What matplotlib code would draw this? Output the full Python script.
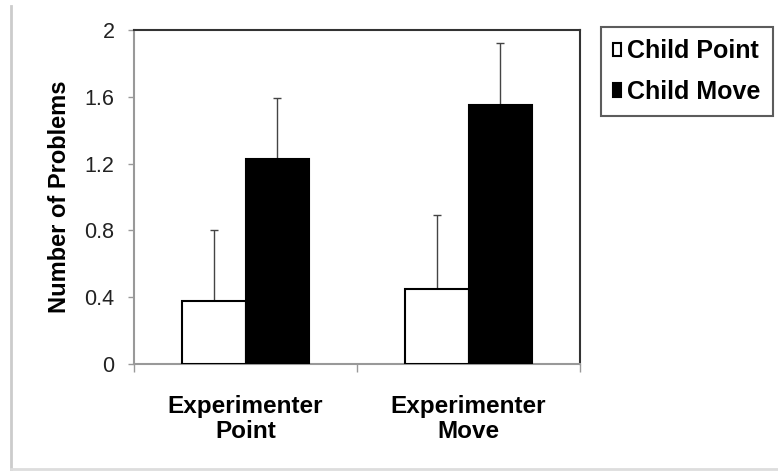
import numpy as np
import matplotlib
matplotlib.use('Agg')
import matplotlib.pyplot as plt
from matplotlib.lines import Line2D
from matplotlib import font_manager

categories = ['Experimenter\nPoint', 'Experimenter\nMove']
series = ['Child Point', 'Child Move']
child_point = [0.38, 0.45]
child_move = [1.23, 1.55]
child_point_err = [0.42, 0.44]
child_move_err = [0.36, 0.37]
yticks = [0, 0.4, 0.8, 1.2, 1.6, 2]
ytick_labels = ['0', '0.4', '0.8', '1.2', '1.6', '2']

names = {f.name for f in font_manager.fontManager.ttflist}
narrow = 'Liberation Sans Narrow' if 'Liberation Sans Narrow' in names else 'Liberation Sans'
plt.rcParams['font.family'] = ['Liberation Sans', 'DejaVu Sans']

fig = plt.figure(figsize=(7.78, 4.71), dpi=100)
ax = fig.add_axes([134/778, 107/471, 446/778, 334/471])

x = np.arange(len(categories))
w = 0.285
b1 = ax.bar(x - w/2, child_point, w, color='white', edgecolor='black', linewidth=1.5, label=series[0], zorder=3)
b2 = ax.bar(x + w/2, child_move, w, color='black', edgecolor='black', linewidth=1.5, label=series[1], zorder=3)

# one-sided error bars
ax.errorbar(x - w/2, child_point, yerr=[np.zeros(2), child_point_err], fmt='none',
            ecolor='#444444', elinewidth=1, capsize=3, capthick=1, zorder=2)
ax.errorbar(x + w/2, child_move, yerr=[np.zeros(2), child_move_err], fmt='none',
            ecolor='#444444', elinewidth=1, capsize=3, capthick=1, zorder=2)

ax.set_xlim(-0.5, 1.5)
ax.set_ylim(0, 2)
ax.set_yticks(yticks)
ax.set_yticklabels(ytick_labels, fontfamily=narrow, fontsize=15.5, color='#222222')
ax.set_xticks(x)
ax.set_xticklabels(categories, fontsize=17.5, fontweight='bold', linespacing=1.15)
ax.set_xticks([-0.5, 0.5, 1.5], minor=True)
ax.tick_params(axis='x', which='major', length=0, pad=22)
ax.tick_params(axis='x', which='minor', length=6, color='#999999', width=1)
ax.tick_params(axis='y', length=4, color='#999999', width=1, pad=10)
ax.set_ylabel('Number of Problems', fontsize=17, fontweight='bold', labelpad=10)

for s in ['left', 'bottom']:
    ax.spines[s].set_color('#999999')
    ax.spines[s].set_linewidth(1.5)
for s in ['top', 'right']:
    ax.spines[s].set_color('#333333')
    ax.spines[s].set_linewidth(1.5)

leg = fig.legend(handles=[b1, b2], labels=series, loc='upper right',
                 bbox_to_anchor=(773/778, 1 - 27/471), frameon=True, fancybox=False,
                 prop={'weight': 'bold', 'size': 18}, handlelength=0.3, handleheight=0.45,
                 handletextpad=0.25, borderpad=0.5, labelspacing=0.65, borderaxespad=0)
leg.get_frame().set_edgecolor('#333333')
leg.get_frame().set_linewidth(1.5)

# light frame lines around the figure
fig.add_artist(Line2D([11/778, 11/778], [1 - 470/471, 1 - 6/471], color='#cccccc', lw=2))
fig.add_artist(Line2D([11/778, 1], [1 - 469/471, 1 - 469/471], color='#dddddd', lw=2))

fig.savefig('out.png', dpi=100)
